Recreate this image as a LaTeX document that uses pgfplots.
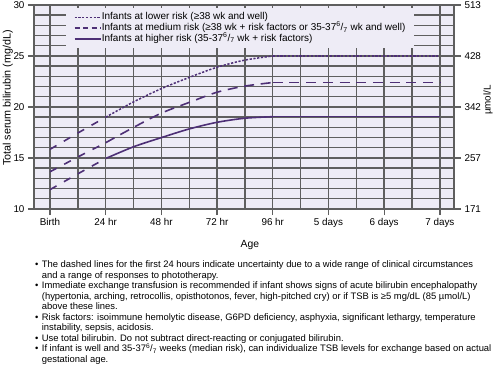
\documentclass[border=0pt]{standalone}
\usepackage{pgfplots}
\pgfplotsset{compat=1.18}
\usepackage{fontspec}
\setmainfont{Liberation Sans}
\definecolor{bg}{RGB}{238,236,246}
\definecolor{curve}{RGB}{78,48,118}
\definecolor{gridc}{RGB}{95,95,95}
\newcommand{\sixsev}{\textsuperscript{6}/\textsubscript{7}}
\newcommand{\bfnt}{\fontsize{9.45}{11}\selectfont}
\newcommand{\bline}[2]{\node[anchor=base west,inner sep=0,font=\bfnt] at (1bp,#1) {\textbullet};\node[anchor=base west,inner sep=0,font=\bfnt] at (7.7bp,#1) {#2};}
\newcommand{\contline}[2]{\node[anchor=base west,inner sep=0,font=\bfnt] at (7.7bp,#1) {#2};}
\begin{document}
\begin{tikzpicture}
\path[use as bounding box] (-34bp,-158bp) rectangle (466bp,209bp);
\begin{axis}[
  scale only axis, width=420bp, height=204bp,
  xmin=-6.9, xmax=174.1, ymin=10, ymax=30,
  axis background/.style={fill=bg},
  xtick={0,24,48,72,96,120,144,168},
  xticklabels={Birth,24 hr,48 hr,72 hr,96 hr,5 days,6 days,7 days},
  minor xtick={12,36,60,84,108,132,156},
  ytick={10,15,20,25,30}, yticklabels={10,15,20,25,30},
  minor ytick={11,12,13,14,16,17,18,19,21,22,23,24,26,27,28,29},
  grid=both,
  major grid style={draw=gridc, line width=1.4bp},
  minor grid style={draw=gridc, line width=1.4bp},
  xtick pos=bottom, ytick pos=left,
  tick align=outside, major tick length=6bp, minor tick length=0pt,
  major tick style={draw=gridc, line width=1.3bp},
  axis line style={draw=gridc, line width=1.3bp},
  /pgf/number format/assume math mode=true,
  ticklabel style={font=\fontsize{9.9}{11}\selectfont},
  xlabel={Age}, ylabel={Total serum bilirubin (mg/dL)},
  xlabel style={at={(axis description cs:0.514,-0.176)}, anchor=center, font=\fontsize{10.4}{12}\selectfont},
  ylabel style={at={(axis description cs:-0.062,0.544)}, anchor=center, font=\fontsize{10.8}{12}\selectfont},
  legend style={at={(axis description cs:0.0762,0.9853)}, anchor=north west, fill=bg, draw=none,
    inner xsep=7.5bp, inner ysep=4bp, font=\fontsize{10}{11}\selectfont,
    nodes={inner sep=0.6bp, text height=7bp, text depth=2.3bp}, row sep=0.3bp,
    /tikz/every even column/.append style={column sep=4bp}},
  legend cell align=left,
  legend image code/.code={\draw[#1] (0bp,0bp) -- (26bp,0bp);},
]
% first 24 hours: dashed for all three
\addplot[curve, line width=1.6bp, dash pattern=on 7.5bp off 8.5bp, forget plot] coordinates {(0,15.85) (12,17.45) (24,19.0)};
\addplot[curve, line width=1.6bp, dash pattern=on 7.5bp off 8.5bp, forget plot] coordinates {(0,13.65) (12,15.1) (24,16.5)};
\addplot[curve, line width=1.6bp, dash pattern=on 7.5bp off 8.5bp, forget plot] coordinates {(0,11.9) (12,13.45) (24,14.95)};
% lower risk
\addplot[curve, line width=1.5bp, dash pattern=on 2.2bp off 1.6bp, smooth] coordinates {(24,19.0) (36,20.5) (48,21.8) (60,22.9) (72,23.9) (84,24.6) (96,25.0)};
\addlegendentry{Infants at lower risk (≥38 wk and well)}
\addplot[curve, line width=1.5bp, dash pattern=on 2.2bp off 1.6bp, forget plot] coordinates {(96,25.0) (168,25.0)};
% medium risk
\addplot[curve, line width=1.6bp, dash pattern=on 10bp off 6.7bp, smooth,
  legend image code/.code={\draw[curve, line width=1.6bp, dash pattern=on 5bp off 3.5bp] (0bp,0bp) -- (26bp,0bp);}] coordinates {(24,16.5) (36,18.0) (48,19.4) (60,20.45) (72,21.45) (84,22.05) (96,22.4)};
\addlegendentry{Infants at medium risk (≥38 wk + risk factors or 35-37\sixsev{} wk and well)}
\addplot[curve, line width=1.6bp, dash pattern=on 10bp off 6.7bp, forget plot] coordinates {(96,22.4) (168,22.4)};
% higher risk
\addplot[curve, line width=1.6bp, smooth] coordinates {(24,14.95) (36,16.1) (48,17.0) (60,17.85) (72,18.5) (84,18.9) (96,19.05)};
\addlegendentry{Infants at higher risk (35-37\sixsev{} wk + risk factors)}
\addplot[curve, line width=1.6bp, forget plot] coordinates {(96,19.05) (168,19.05)};
\end{axis}
\begin{axis}[
  scale only axis, width=420bp, height=204bp,
  xmin=-6.9, xmax=174.1, ymin=10, ymax=30,
  axis x line=none, axis y line*=right,
  ytick={10,15,20,25,30}, yticklabels={171,257,342,428,513},
  tick align=outside, major tick length=7bp,
  major tick style={draw=gridc, line width=1.3bp},
  axis line style={draw=gridc, line width=1.3bp},
  ticklabel style={font=\fontsize{9.9}{11}\selectfont},
]
\addplot[draw=none, forget plot] coordinates {(0,10) (168,30)};
\end{axis}
\node[rotate=90, inner sep=0, font=\fontsize{9.9}{11}\selectfont] at (454bp,109bp) {µmol/L};
\bline{-58.5bp}{The dashed lines for the first 24 hours indicate uncertainty due to a wide range of clinical circumstances}
\contline{-69bp}{and a range of responses to phototherapy.}
\bline{-79.6bp}{Immediate exchange transfusion is recommended if infant shows signs of acute bilirubin encephalopathy}
\contline{-90.2bp}{(hypertonia, arching, retrocollis, opisthotonos, fever, high-pitched cry) or if TSB is ≥5 mg/dL (85 µmol/L)}
\contline{-100.7bp}{above these lines.}
\bline{-111.3bp}{Risk factors: isoimmune hemolytic disease, G6PD deficiency, asphyxia, significant lethargy, temperature}
\contline{-121.8bp}{instability, sepsis, acidosis.}
\bline{-132.4bp}{Use total bilirubin. Do not subtract direct-reacting or conjugated bilirubin.}
\bline{-142.9bp}{If infant is well and 35-37\sixsev{} weeks (median risk), can individualize TSB levels for exchange based on actual}
\contline{-153.5bp}{gestational age.}
\end{tikzpicture}
\end{document}
